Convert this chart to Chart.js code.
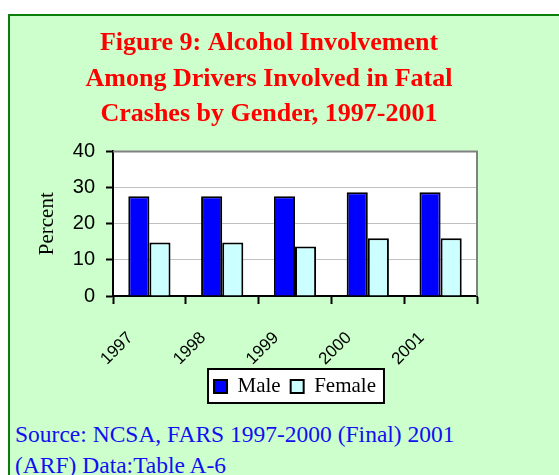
<!DOCTYPE html>
<html>
<head>
<meta charset="utf-8">
<script src="https://cdn.jsdelivr.net/npm/chart.js@4"></script>
<style>
  html, body { margin: 0; padding: 0; width: 559px; height: 475px; overflow: hidden; background: #fff; }
  .panel { position: absolute; left: 8px; top: 14px; width: 600px; height: 520px;
           background: #ccffcc; border: 2px solid #0b7d0b; }
  .chart { position: absolute; left: 0; top: 0; width: 559px; height: 412px; }
  .source { position: absolute; left: 15px; top: 419px; font-family: "Liberation Serif", serif;
            font-size: 23.5px; line-height: 31px; color: #1010f0; white-space: nowrap; }
</style>
</head>
<body>
<div class="panel"></div>
<div class="chart"><canvas id="c" width="559" height="412"></canvas></div>
<div class="source">Source: NCSA, FARS 1997-2000 (Final) 2001<br>(ARF) Data:Table A-6</div>
<script>
const years = ['1997', '1998', '1999', '2000', '2001'];
const maleValues = [27.6, 27.6, 27.6, 28.7, 28.7];
const femaleValues = [14.8, 14.8, 13.7, 16.0, 16.0];
const yTicks = [0, 10, 20, 30, 40];
const titleLines = ['Figure 9: Alcohol Involvement', 'Among Drivers Involved in Fatal', 'Crashes by Gender, 1997-2001'];

// white plot area, legend frame and the grey top/right edge of the plot
const framePlugin = {
    id: 'frame',
    beforeDraw(chart) {
        const ctx = chart.ctx;
        const a = chart.chartArea;
        ctx.save();
        ctx.fillStyle = '#ffffff';
        ctx.fillRect(a.left, a.top, a.right - a.left, a.bottom - a.top);
        const boxes = chart.legend.legendHitBoxes;
        if (boxes && boxes.length) {
            let l = Infinity, t = Infinity, r = -Infinity, b = -Infinity;
            boxes.forEach(h => {
                l = Math.min(l, h.left); t = Math.min(t, h.top);
                r = Math.max(r, h.left + h.width); b = Math.max(b, h.top + h.height);
            });
            l -= 6; r += 8; t -= 7; b += 6;
            ctx.fillRect(l, t, r - l, b - t);
            ctx.strokeStyle = '#000';
            ctx.lineWidth = 2;
            ctx.strokeRect(l, t, r - l, b - t);
        }
        ctx.restore();
    },
    afterDatasetsDraw(chart) {
        const ctx = chart.ctx;
        const a = chart.chartArea;
        ctx.save();
        ctx.strokeStyle = '#808080';
        ctx.lineWidth = 2;
        ctx.beginPath();
        ctx.moveTo(a.left, a.top);
        ctx.lineTo(a.right, a.top);
        ctx.lineTo(a.right, a.bottom);
        ctx.stroke();
        ctx.restore();
    }
};

new Chart(document.getElementById('c'), {
    type: 'bar',
    data: {
        labels: years,
        datasets: [
            { label: 'Male', data: maleValues, backgroundColor: '#0000ff', borderColor: '#000', borderWidth: 2 },
            { label: 'Female', data: femaleValues, backgroundColor: '#ccffff', borderColor: '#000', borderWidth: 2 }
        ]
    },
    options: {
        responsive: false,
        animation: false,
        layout: { padding: { left: 0, right: 21, top: 0, bottom: 5 } },
        datasets: { bar: { categoryPercentage: 0.58, barPercentage: 1.0 } },
        plugins: {
            title: {
                display: true,
                text: titleLines,
                color: '#ff0000',
                font: { family: 'Liberation Serif', size: 26, weight: 'bold', lineHeight: 1.365 },
                padding: { top: 26, bottom: 19 }
            },
            legend: {
                position: 'bottom',
                fullSize: false,
                labels: {
                    color: '#000',
                    font: { family: 'Liberation Serif', size: 21 },
                    boxWidth: 13,
                    boxHeight: 13,
                    padding: 10
                }
            },
            tooltip: { enabled: false }
        },
        scales: {
            x: {
                offset: true,
                afterFit: s => { s.height = 70; },
                grid: { display: true, drawOnChartArea: false, offset: true, tickLength: 8, tickColor: '#000', tickWidth: 2 },
                border: { display: true, color: '#000', width: 2 },
                ticks: {
                    color: '#000',
                    font: { family: 'Liberation Sans', size: 17 },
                    minRotation: 45,
                    maxRotation: 45,
                    autoSkip: false,
                    labelOffset: -19,
                    padding: 24
                }
            },
            y: {
                min: 0,
                max: 40,
                afterBuildTicks: s => { s.ticks = yTicks.map(v => ({ value: v })); },
                afterFit: s => { s.width = 113; },
                grid: { color: '#c0c0c0', lineWidth: 1, tickLength: 7, tickColor: '#000', tickWidth: 2 },
                border: { display: true, color: '#000', width: 2 },
                ticks: { color: '#000', font: { family: 'Liberation Sans', size: 20 }, padding: 11 },
                title: {
                    display: true,
                    text: 'Percent',
                    color: '#000',
                    font: { family: 'Liberation Serif', size: 21 },
                    padding: { top: 35, bottom: 0 }
                }
            },
            y2: {
                position: 'right',
                display: true,
                afterFit: s => { s.width = 61; },
                grid: { display: false },
                border: { display: false },
                ticks: { display: false }
            }
        }
    },
    plugins: [framePlugin]
});
</script>
</body>
</html>
